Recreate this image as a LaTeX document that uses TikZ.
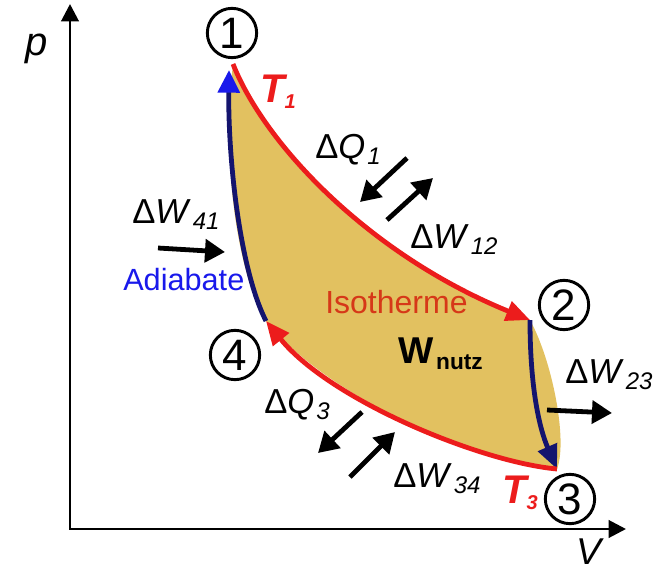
\documentclass[tikz,border=0pt]{standalone}
\usepackage{fontspec}
\setmainfont{Liberation Sans}
\usepackage{xcolor}
\usetikzlibrary{arrows.meta}

\definecolor{isored}{RGB}{236,28,28}
\definecolor{adinavy}{RGB}{20,20,110}
\definecolor{adiblue}{RGB}{25,25,235}
\definecolor{areagold}{RGB}{226,193,96}
\definecolor{textred}{RGB}{214,56,24}

\newcommand{\sz}[1]{\fontsize{#1}{#1}\selectfont}
\newcommand{\dlab}[2]{{\sz{26}Δ\textit{#1}}\kern1.5pt\raisebox{-5pt}{\sz{18}\textit{#2}}}

\begin{document}
\begin{tikzpicture}[x=0.75pt, y=-0.75pt,
  state/.style={circle, draw, line width=2.2pt, minimum size=37pt, inner sep=0pt, font=\sz{33}},
  lab/.style={anchor=base west, inner sep=0pt},
  isotherm/.style={isored, line width=3.6pt, -{Triangle[length=18pt, width=15pt]}},
  adiabat/.style={adinavy, line width=3.6pt, -{Triangle[length=18pt, width=15pt]}},
  flow/.style={black, line width=3.6pt, -{Triangle[length=15pt, width=17pt]}},
  axis/.style={black, line width=2.2pt, {Triangle[length=13pt, width=13pt]}-{Triangle[length=13pt, width=13pt]}},
]
\useasboundingbox (0,0) rectangle (663,575);

% Achsen
\coordinate (origin) at (70,529);
\coordinate (ptip) at (70,4);
\coordinate (vtip) at (626,529);
\draw[axis] (ptip) -- (origin) -- (vtip);
\node[lab, font=\sz{30}\itshape] (plab) at (25,55) {p};
\node[lab, font=\sz{28}\itshape] (vlab) at (576,564) {V};

% Zustandspunkte
\coordinate (s1) at (233,64);
\coordinate (s2) at (530,320);
\coordinate (s3) at (557,469);
\coordinate (s4) at (266,321);
\coordinate (a1) at (229,70);

% Nutzarbeit (Flaeche)
\fill[areagold] (s1) .. controls (265,145) and (370,255) .. (s2)
  .. controls (552,360) and (568,440) .. (s3)
  .. controls (480,462) and (330,400) .. (s4)
  .. controls (236,270) and (222,160) .. (s1) -- cycle;

% Kreisprozess
\draw[isotherm] (s1) .. controls (265,145) and (370,255) .. (s2);
\draw[adiabat] (s2) .. controls (530,390) and (540,430) .. (s3);
\draw[isotherm] (s3) .. controls (480,462) and (330,400) .. (s4);
\draw[adiabat, -{Triangle[length=17pt, width=16pt, color=adiblue]}] (s4) .. controls (240,270) and (228,160) .. (a1);

% Nummern
\node[state] (c1) at (232,33) {1};
\node[state] (c2) at (564,305) {2};
\node[state] (c3) at (570,499) {3};
\node[state] (c4) at (235,355) {4};

% Temperaturen
\node[lab, isored, font=\sz{30}\bfseries\itshape] (t1) at (260,102) {T\raisebox{-4.5pt}{\sz{15}1}};
\node[lab, isored, font=\sz{30}\bfseries\itshape] (t3) at (502,503) {T\raisebox{-5pt}{\sz{15}3}};

% Beschriftungen
\node[lab, adiblue, font=\sz{23}] (adia) at (123,290) {Adiabate};
\node[lab, textred, font=\sz{24}] (isoth) at (325,313) {Isotherme};
\node[lab] (wnutz) at (398,363) {\sz{28}\bfseries W\kern2pt\raisebox{-5pt}{\sz{17}nutz}};

\node[lab] (dq1) at (315,158) {\dlab{Q}{1}};
\node[lab] (dw12) at (410,248) {\dlab{W}{12}};
\node[lab] (dw41) at (132,223) {\dlab{W}{41}};
\node[lab] (dw23) at (565,383) {\dlab{W}{23}};
\node[lab] (dq3) at (264,413) {\dlab{Q}{3}};
\node[lab] (dw34) at (393,487) {\dlab{W}{34}};

% Waerme- und Arbeitspfeile
\coordinate (q1a) at (407,158); \coordinate (q1b) at (360,202);
\coordinate (q1c) at (387,220); \coordinate (q1d) at (433,178);
\coordinate (q3a) at (362,412); \coordinate (q3b) at (318,453);
\coordinate (q3c) at (350,477); \coordinate (q3d) at (395,432);
\coordinate (w41a) at (158,248); \coordinate (w41b) at (225,252);
\coordinate (w23a) at (547,410); \coordinate (w23b) at (612,413);
\draw[flow] (q1a) -- (q1b);
\draw[flow] (q1c) -- (q1d);
\draw[flow] (q3a) -- (q3b);
\draw[flow] (q3c) -- (q3d);
\draw[flow] (w41a) -- (w41b);
\draw[flow] (w23a) -- (w23b);

\end{tikzpicture}
\end{document}
